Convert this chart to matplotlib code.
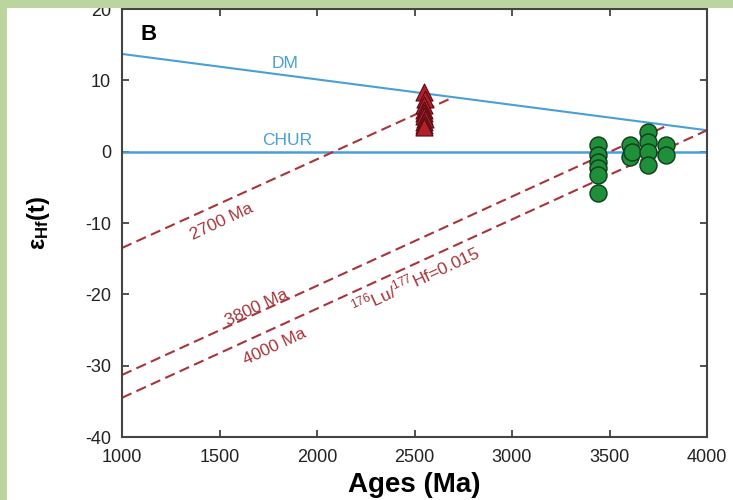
import matplotlib
matplotlib.use("Agg")
import matplotlib.pyplot as plt
from matplotlib.patches import Rectangle
import numpy as np

plt.rcParams['font.family'] = ['Liberation Sans', 'DejaVu Sans']
plt.rcParams['mathtext.fontset'] = 'custom'
plt.rcParams['mathtext.rm'] = 'Liberation Sans'
plt.rcParams['mathtext.bf'] = 'Liberation Sans:bold'
plt.rcParams['axes.unicode_minus'] = False

# Reference evolution lines
dm_age = [1000, 4000]
dm_eps = [13.7, 3.0]
chur_age = [1000, 4000]
chur_eps = [0.0, 0.0]

# Crustal evolution lines (176Lu/177Hf = 0.015): model age and eps at 1000 Ma
crust_model_age = [2700, 3800, 4000]
crust_eps_1000 = [-13.5, -31.3, -34.5]
crust_labels = ["2700 Ma", "3800 Ma", "4000 Ma"]

# ~2.55 Ga zircons (red triangles)
tri_age = [2548, 2552, 2549, 2551, 2550, 2548, 2552, 2550, 2549, 2551]
tri_eps = [8.3, 7.4, 6.6, 5.9, 5.4, 5.0, 4.6, 4.2, 3.8, 3.5]

# Eoarchean zircons (green circles)
cir_age = [3440, 3440, 3440, 3440, 3440, 3442,
           3606, 3606, 3615,
           3695, 3695, 3697, 3697,
           3790, 3790]
cir_eps = [1.0, -0.4, -1.4, -2.3, -3.3, -5.8,
           0.9, -0.8, -0.1,
           2.7, 1.3, -0.1, -1.8,
           0.9, -0.4]

fig = plt.figure(figsize=(7.33, 5.0), dpi=100)
fig.patch.set_facecolor('white')
fig.patches.append(Rectangle((0, 0), 7 / 733, 1, transform=fig.transFigure,
                             facecolor='#bcd49e', edgecolor='none', zorder=0))
fig.patches.append(Rectangle((0, 1 - 8 / 500), 1, 8 / 500, transform=fig.transFigure,
                             facecolor='#bcd49e', edgecolor='none', zorder=0))

ax = fig.add_axes([122 / 733, 1 - 437 / 500, (707 - 122) / 733, (437 - 9) / 500])

blue = '#4a9fd8'
red_line = '#a8343a'

ax.plot(dm_age, dm_eps, color=blue, lw=1.5, zorder=2)
ax.plot(chur_age, chur_eps, color=blue, lw=1.8, zorder=2)

for age, e0 in zip(crust_model_age, crust_eps_1000):
    e_end = np.interp(age, dm_age, dm_eps)
    ax.plot([1000, age], [e0, e_end], color=red_line, lw=1.5,
            dashes=(5, 2.6), zorder=2)

ax.scatter(tri_age, tri_eps, marker='^', s=150, color='#b3202c',
           edgecolor='#5a0c10', linewidth=0.8, zorder=4)
ax.scatter(cir_age, cir_eps, marker='o', s=150, color='#1f8f3a',
           edgecolor='#0c3d18', linewidth=1.0, zorder=4)

ax.text(1095, 16.4, 'B', fontsize=16, fontweight='bold', ha='left', va='center')
ax.text(1836, 12.4, 'DM', fontsize=12.5, color=blue, ha='center', va='center')
ax.text(1846, 1.6, 'CHUR', fontsize=12.5, color=blue, ha='center', va='center')

rot = 25
ax.text(1513, -9.8, '2700 Ma', fontsize=12.5, color=red_line, rotation=rot,
        ha='center', va='center', rotation_mode='anchor')
ax.text(1692, -21.8, '3800 Ma', fontsize=12.5, color=red_line, rotation=rot,
        ha='center', va='center', rotation_mode='anchor')
ax.text(1785, -27.4, '4000 Ma', fontsize=12.5, color=red_line, rotation=rot,
        ha='center', va='center', rotation_mode='anchor')
ax.text(2503, -18.0, r'$^{176}$Lu/$^{177}$Hf=0.015', fontsize=12.5, color=red_line,
        rotation=rot, ha='center', va='center', rotation_mode='anchor')

ax.set_xlim(1000, 4000)
ax.set_ylim(-40, 20)
ax.set_xticks(np.arange(1000, 4001, 500))
ax.set_yticks(np.arange(-40, 21, 10))
ax.tick_params(direction='in', length=5, width=1.2, labelsize=13,
               top=True, right=True, colors='#333333', labelcolor='#222222')
ax.tick_params(axis='x', pad=9)
ax.tick_params(axis='y', pad=8)
for sp in ax.spines.values():
    sp.set_linewidth(1.5)
    sp.set_color('#444444')

ax.set_xlabel('Ages (Ma)', fontsize=20, fontweight='bold', labelpad=4)
ax.set_ylabel(r'$\mathbf{\varepsilon_{Hf}}$$\mathbf{(t)}$', fontsize=17, labelpad=24)

fig.savefig('out.png', dpi=100)
